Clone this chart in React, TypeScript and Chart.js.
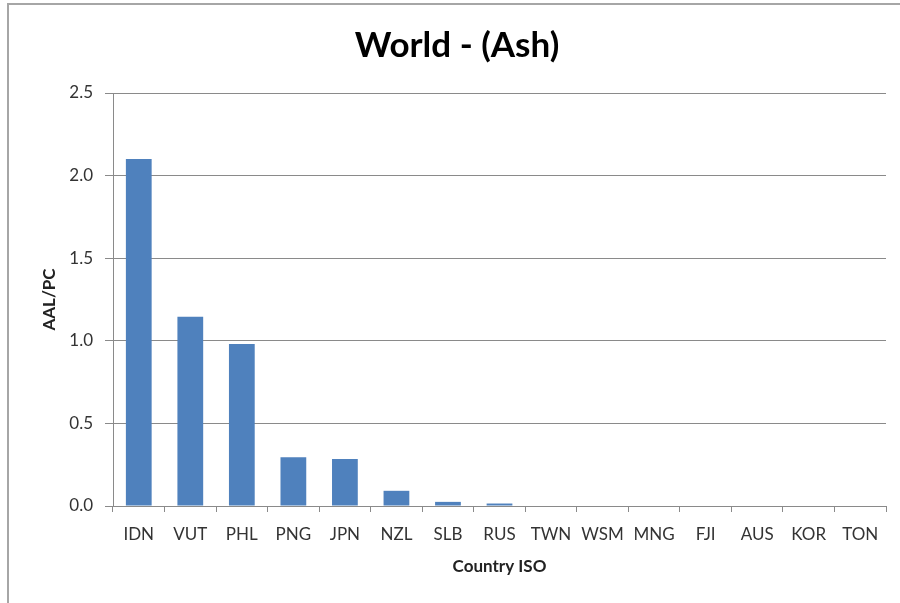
import React, { useEffect, useRef } from "react";
import { Chart, registerables } from "chart.js";

Chart.register(...registerables);

const categories = ["IDN", "VUT", "PHL", "PNG", "JPN", "NZL", "SLB", "RUS", "TWN", "WSM", "MNG", "FJI", "AUS", "KOR", "TON"];
const aalValues = [2.1, 1.145, 0.98, 0.295, 0.285, 0.092, 0.025, 0.015, 0, 0, 0, 0, 0, 0, 0];
const yTicks = [0, 0.5, 1.0, 1.5, 2.0, 2.5];
const titleText = "World - (Ash)";
const xTitle = "Country ISO";
const yTitle = "AAL/PC";

const FONT = "Lato, 'Open Sans', sans-serif";
const GRID = "#8a8a8a";

export default function App() {
  const ref = useRef<HTMLCanvasElement>(null);
  useEffect(() => {
    if (!ref.current) return;
    const titlePlugin = {
      id: "customTitle",
      afterDraw(chart: any) {
        const ctx = chart.ctx;
        const area = chart.chartArea;
        ctx.save();
        ctx.fillStyle = "#000";
        ctx.textAlign = "center";
        ctx.textBaseline = "middle";
        ctx.font = `bold 35px ${FONT}`;
        ctx.fillText(titleText, 457, 46);
        ctx.fillStyle = "#222";
        ctx.font = `bold 17px ${FONT}`;
        ctx.fillText(xTitle, (area.left + area.right) / 2, 567);
        ctx.translate(50, (area.top + area.bottom) / 2);
        ctx.rotate(-Math.PI / 2);
        ctx.fillText(yTitle, 0, 0);
        ctx.restore();
      },
    };
    const chart = new Chart(ref.current, {
      type: "bar",
      data: {
        labels: categories,
        datasets: [
          {
            data: aalValues,
            backgroundColor: "#4F81BD",
            borderWidth: 0,
            barPercentage: 0.5,
            categoryPercentage: 1,
          },
        ],
      },
      options: {
        animation: false,
        responsive: false,
        layout: { padding: { left: 0, right: 14, top: 93, bottom: 0 } },
        plugins: {
          legend: { display: false },
          title: { display: false },
          tooltip: { enabled: false },
        },
        scales: {
          x: {
            grid: { display: true, drawOnChartArea: false, drawTicks: true, tickLength: 6, color: GRID, offset: true },
            border: { display: true, color: GRID, width: 1 },
            ticks: { color: "#333", font: { family: FONT, size: 17 }, padding: 12, maxRotation: 0, autoSkip: false },
            afterFit: (s: any) => { s.height = 603 - 506; },
          },
          y: {
            min: 0,
            max: 2.5,
            afterBuildTicks: (s: any) => { s.ticks = yTicks.map((v) => ({ value: v })); },
            grid: { color: GRID, drawTicks: true, tickLength: 8, lineWidth: 1 },
            border: { display: true, color: GRID, width: 1 },
            ticks: { color: "#333", font: { family: FONT, size: 17 }, padding: 12, callback: (v: any) => Number(v).toFixed(1) },
            afterFit: (s: any) => { s.width = 113; },
          },
        },
      },
      plugins: [titlePlugin],
    });
    return () => chart.destroy();
  }, []);
  return (
    <div style={{ position: "fixed", left: 0, top: 0, width: 900, height: 603, background: "#fff" }}>
      <div style={{ position: "absolute", left: 7, top: 3, width: 893, height: 600, borderLeft: "2px solid #a6a6a6", borderTop: "2px solid #a6a6a6", boxSizing: "border-box" }} />
      <canvas ref={ref} width={900} height={603} style={{ position: "absolute", left: 0, top: 0 }} />
    </div>
  );
}
